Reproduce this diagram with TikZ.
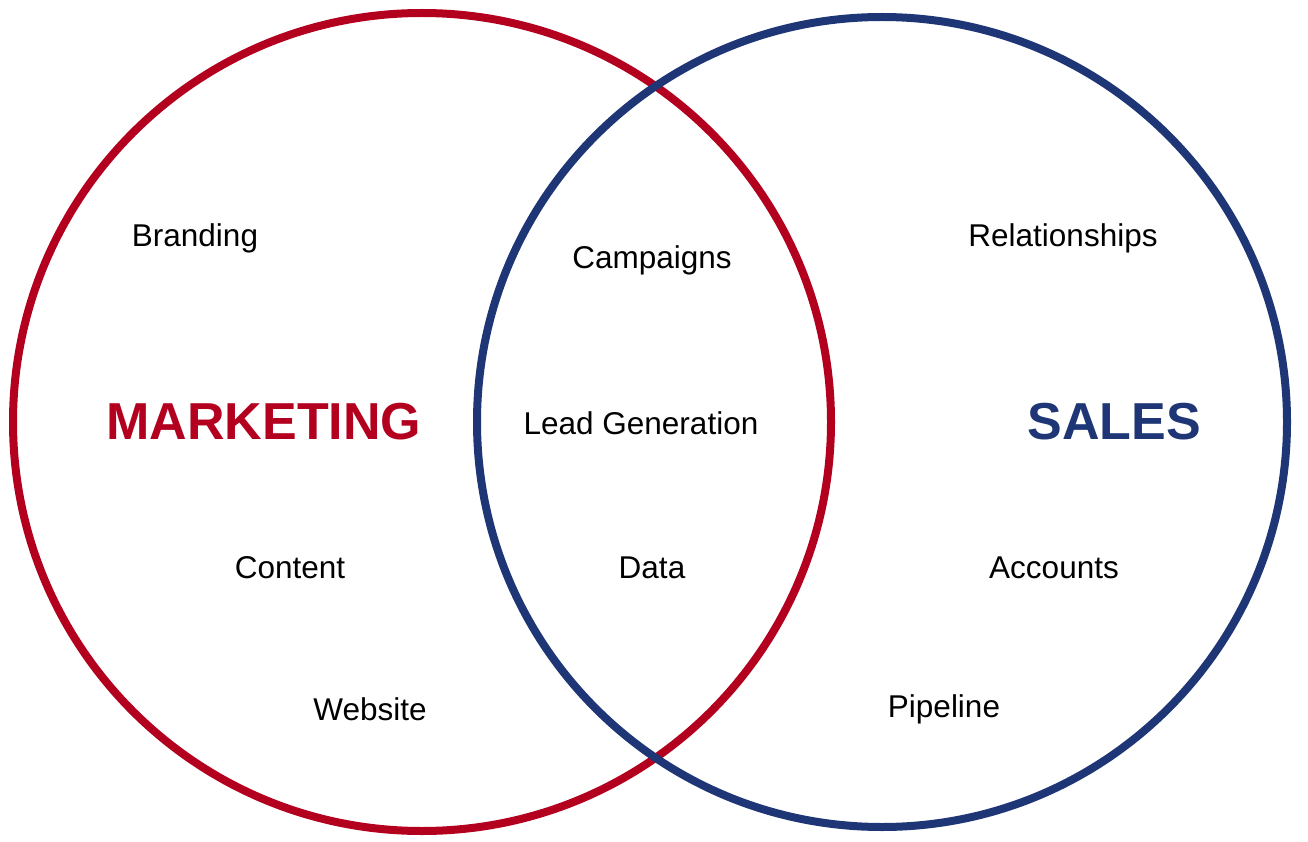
\documentclass[tikz,border=0pt]{standalone}
\usepackage{fontspec}
\setmainfont{Liberation Sans}
\definecolor{mred}{HTML}{B3001F}
\definecolor{sblue}{HTML}{1E3675}
\begin{document}
\begin{tikzpicture}[x=1pt,y=-1pt,
  lbl/.style={font=\fontsize{31.5}{36}\selectfont, text=black, inner sep=0pt},
  big/.style={font=\fontsize{52}{58}\selectfont\bfseries, inner sep=0pt}]
\useasboundingbox (0,0) rectangle (1308,842);
\draw[mred, line width=8pt] (422,422) circle (409);
\draw[sblue, line width=8pt] (882,422) circle (405);
\node[lbl] (branding) at (195,238) {Branding};
\node[lbl] (content) at (290,568) {Content};
\node[lbl] (website) at (370,709) {Website};
\node[big, text=mred] (mkt) at (264,422) {MARKETING};
\node[lbl] (camp) at (652,260) {Campaigns};
\node[lbl] (lead) at (641,423) {Lead Generation};
\node[lbl] (data) at (652,568) {Data};
\node[lbl] (rel) at (1063,238) {Relationships};
\node[big, text=sblue] (sales) at (1114,422) {SALES};
\node[lbl] (acc) at (1054,568) {Accounts};
\node[lbl] (pipe) at (944,709) {Pipeline};
\end{tikzpicture}
\end{document}
